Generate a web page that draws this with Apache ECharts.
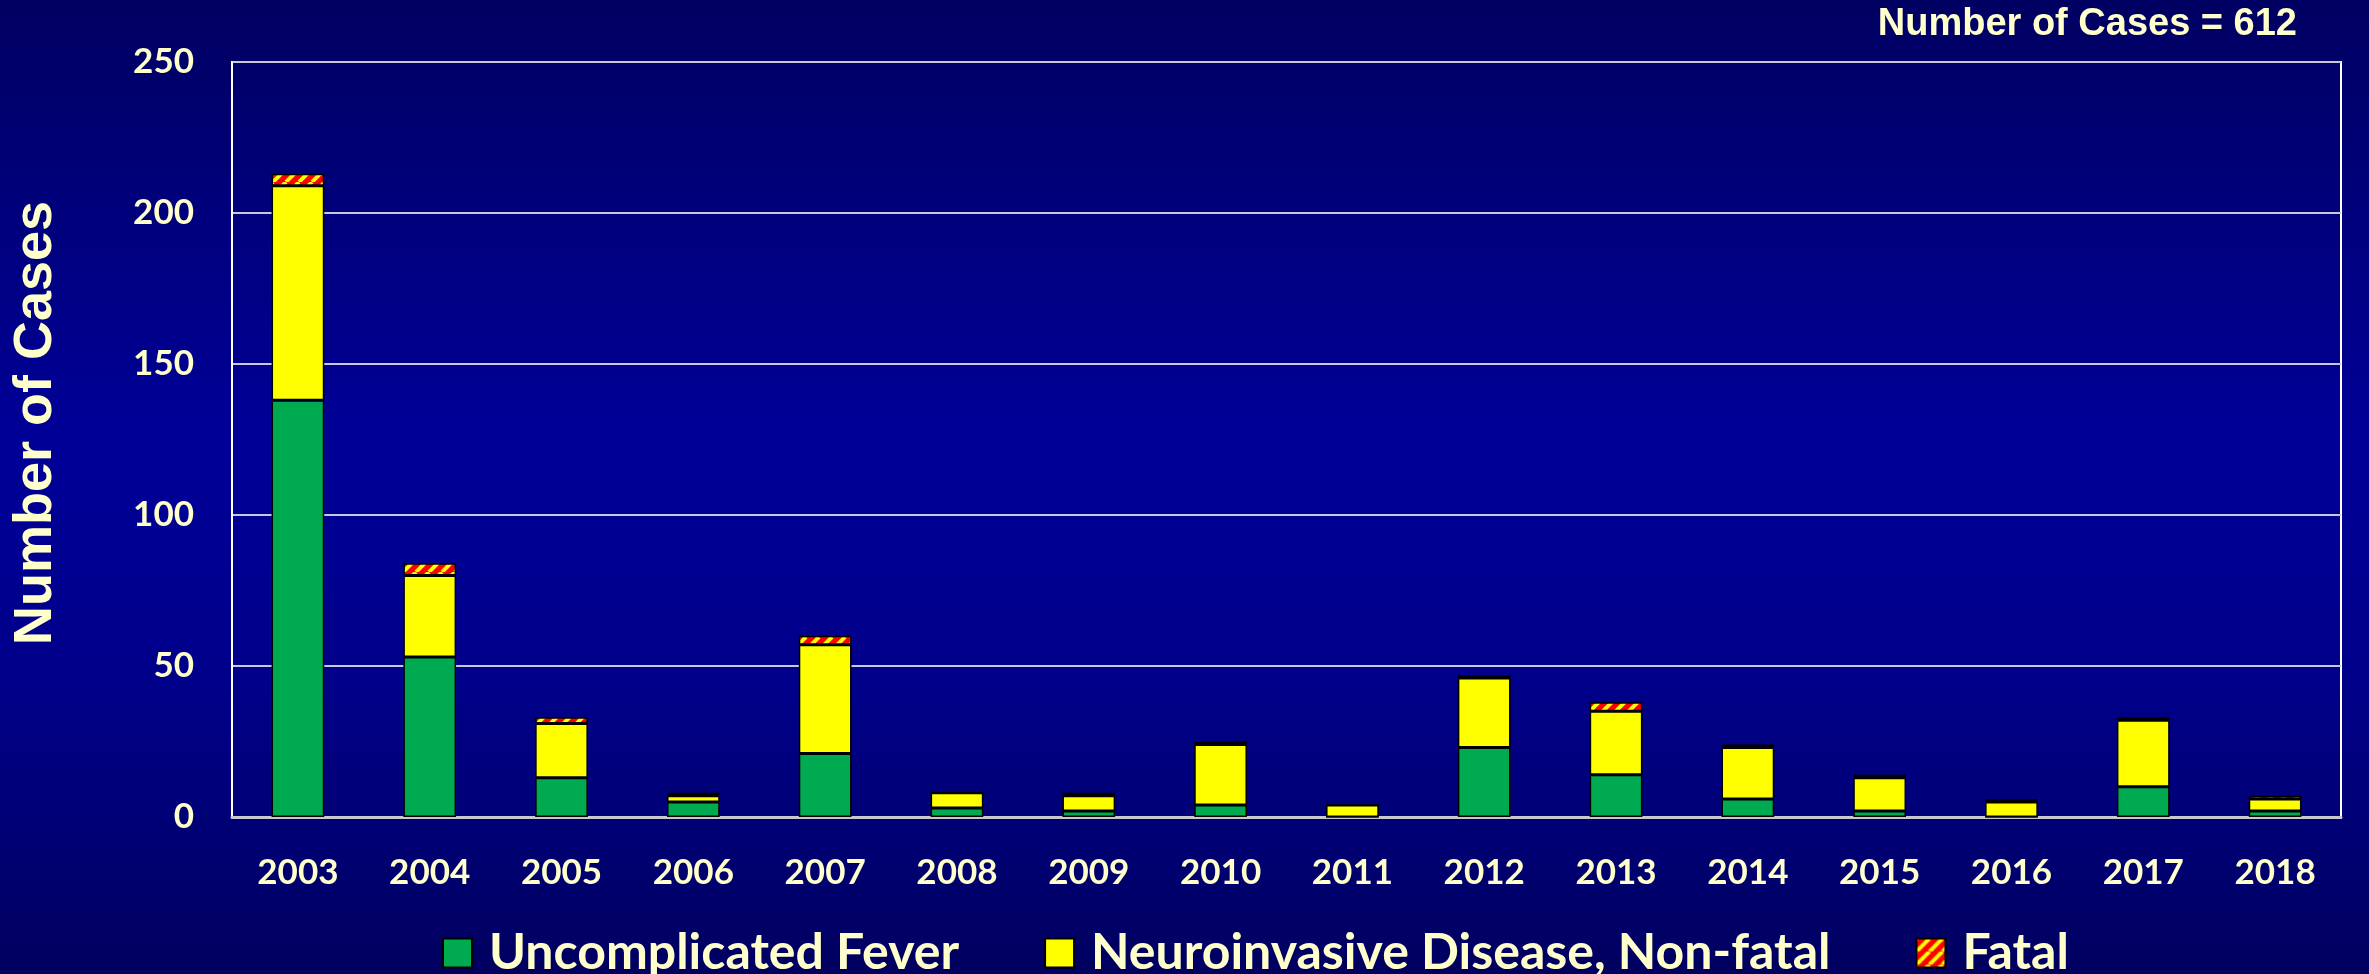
<!DOCTYPE html>
<html>
<head>
<meta charset="utf-8">
<title>Cases by year</title>
<script src="https://cdn.jsdelivr.net/npm/echarts@6/dist/echarts.min.js"></script>
<style>
html, body { margin: 0; padding: 0; background: #000080; }
#chart { width: 2369px; height: 974px; }
</style>
</head>
<body>
<div id="chart"></div>
<script>
// data
var years = ['2003','2004','2005','2006','2007','2008','2009','2010','2011','2012','2013','2014','2015','2016','2017','2018'];
var fever = [138, 53, 13, 5, 21, 3, 2, 4, 0, 23, 14, 6, 2, 0, 10, 2];
var neuro = [71, 27, 18, 2, 36, 5, 5, 20, 4, 23, 21, 17, 11, 5, 22, 4];
var fatal = [4, 4, 2, 1, 3, 0, 1, 1, 0, 1, 3, 1, 1, 1, 1, 1];
var yTicks = [0, 50, 100, 150, 200, 250];

var cream = '#FFFFCC';

// red / yellow diagonal stripes for the fatal cases
function stripes() {
    var s = 13;
    var c = document.createElement('canvas');
    c.width = s; c.height = s;
    var g = c.getContext('2d');
    g.fillStyle = '#FF0000';
    g.fillRect(0, 0, s, s);
    g.strokeStyle = '#FFFF00';
    g.lineWidth = 4;
    for (var k = -1; k <= 1; k++) {
        g.beginPath();
        g.moveTo(k * s, s);
        g.lineTo(k * s + s, 0);
        g.stroke();
    }
    return c;
}
var fatalFill = { image: stripes(), repeat: 'repeat' };

var chart = echarts.init(document.getElementById('chart'));

function barSeries(name, data, color) {
    return {
        name: name,
        type: 'bar',
        stack: 'cases',
        barWidth: '40%',
        data: data,
        itemStyle: {
            color: color,
            borderColor: '#000',
            borderWidth: 1.5
        }
    };
}

var option = {
    backgroundColor: {
        type: 'linear', x: 0, y: 0, x2: 0, y2: 1,
        colorStops: [
            { offset: 0, color: '#000062' },
            { offset: 0.45, color: '#000098' },
            { offset: 0.7, color: '#00008a' },
            { offset: 1, color: '#000060' }
        ]
    },
    animation: false,
    title: {
        text: 'Number of Cases = 612',
        right: 72,
        top: 6,
        padding: 0,
        textStyle: {
            color: cream,
            fontFamily: 'Liberation Sans',
            fontWeight: 'bold',
            fontSize: 38
        }
    },
    graphic: [{
        type: 'text',
        x: 36,
        y: 423,
        rotation: Math.PI / 2,
        style: {
            text: 'Number of Cases',
            fill: cream,
            font: 'bold 54px "Liberation Sans"',
            textAlign: 'center',
            textVerticalAlign: 'middle'
        }
    }],
    legend: {
        left: 442,
        top: 928,
        padding: 0,
        itemWidth: 29,
        itemHeight: 29,
        itemGap: 85,
        icon: 'rect',
        data: ['Uncomplicated Fever', 'Neuroinvasive Disease, Non-fatal', 'Fatal'],
        itemStyle: { borderColor: '#000', borderWidth: 2 },
        textStyle: {
            color: cream,
            fontFamily: 'Lato',
            fontWeight: 'bold',
            fontSize: 50,
            lineHeight: 40,
            padding: [0, 0, 0, 12]
        }
    },
    grid: {
        left: 232,
        right: 28,
        top: 62,
        bottom: 157,
        outerBoundsMode: 'none',
        show: true,
        borderColor: '#ffffff',
        borderWidth: 2,
        backgroundColor: 'transparent'
    },
    xAxis: {
        type: 'category',
        data: years,
        axisTick: { show: false },
        axisLine: { lineStyle: { color: '#c8c8d0', width: 3 } },
        axisLabel: {
            color: cream,
            fontFamily: 'Lato',
            fontWeight: 'bold',
            fontSize: 35,
            margin: 38,
            interval: 0
        }
    },
    yAxis: {
        type: 'value',
        min: yTicks[0],
        max: yTicks[yTicks.length - 1],
        interval: yTicks[1] - yTicks[0],
        axisLine: { show: true, lineStyle: { color: '#ffffff', width: 2 } },
        axisTick: { show: false },
        splitLine: { lineStyle: { color: '#c8c8dc', width: 2 } },
        axisLabel: {
            color: cream,
            fontFamily: 'Lato',
            fontWeight: 'bold',
            fontSize: 35,
            margin: 38
        }
    },
    series: [
        barSeries('Uncomplicated Fever', fever, '#00AA50'),
        barSeries('Neuroinvasive Disease, Non-fatal', neuro, '#FFFF00'),
        barSeries('Fatal', fatal, fatalFill)
    ]
};
chart.setOption(option);
</script>
</body>
</html>
